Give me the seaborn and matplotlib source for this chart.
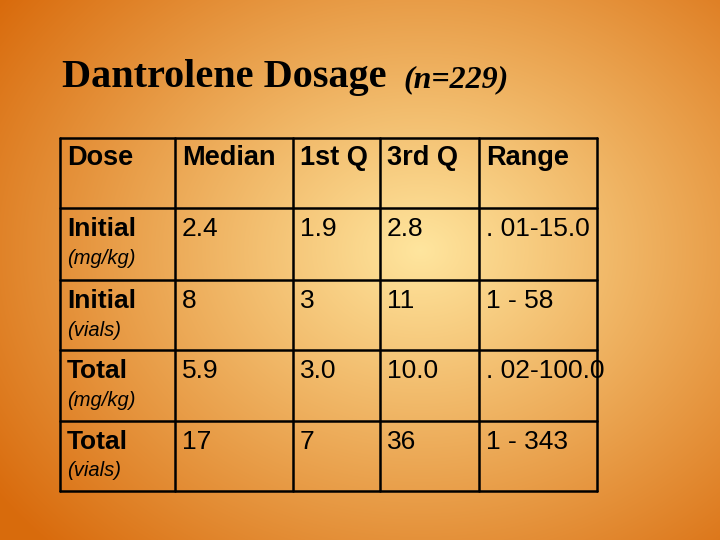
import numpy as np
import matplotlib
matplotlib.use("Agg")
import matplotlib.pyplot as plt
import seaborn as sns

sns.set_theme(style="white")

title_main = "Dantrolene Dosage "
title_sub = "(n=229)"
headers = ["Dose", "Median", "1st Q", "3rd Q", "Range"]
row_names = ["Initial", "Initial", "Total", "Total"]
row_units = ["(mg/kg)", "(vials)", "(mg/kg)", "(vials)"]
median = ["2.4", "8", "5.9", "17"]
q1 = ["1.9", "3", "3.0", "7"]
q3 = ["2.8", "11", "10.0", "36"]
rng = [". 01-15.0", "1 - 58", ". 02-100.0", "1 - 343"]

fig = plt.figure(figsize=(7.2, 5.4), dpi=100)
ax = fig.add_axes([0, 0, 1, 1])
ax.set_xlim(0, 720); ax.set_ylim(540, 0); ax.axis("off")

yy, xx = np.mgrid[0:540, 0:720]
d = np.sqrt(((xx - 420) / 520) ** 2 + ((yy - 250) / 420) ** 2)
d = np.clip(d, 0, 1)
c0 = np.array([1.0, 0.90, 0.62]); c1 = np.array([0.85, 0.42, 0.05])
img = c0[None, None, :] * (1 - d[..., None]) + c1[None, None, :] * d[..., None]
ax.imshow(img, extent=[0, 720, 540, 0], aspect="auto", zorder=0)

K = "black"
ax.text(62, 77, title_main, fontsize=29, fontweight="bold", family="Liberation Serif",
        va="center", ha="left", color=K)
ax.text(403, 80, title_sub, fontsize=23, fontweight="bold", style="italic",
        family="Liberation Serif", va="center", ha="left", color=K)

xs = [60, 175, 293, 380, 479, 597]
ys = [138, 208, 280, 350, 421, 491]
for x in xs:
    ax.plot([x, x], [ys[0], ys[-1]], color=K, lw=1.8, zorder=3)
for y in ys:
    ax.plot([xs[0], xs[-1]], [y, y], color=K, lw=1.8, zorder=3)

f = "Liberation Sans"
for j, h in enumerate(headers):
    ax.text(xs[j] + 7, 158, h, fontsize=19.5, fontweight="bold", family=f, va="center", color=K, zorder=4)
cols = [median, q1, q3, rng]
for i in range(4):
    y0 = ys[i + 1]
    ax.text(67, y0 + 21, row_names[i], fontsize=19, fontweight="bold", family=f, va="center", color=K, zorder=4)
    ax.text(67, y0 + 50, row_units[i], fontsize=14.5, style="italic", family=f, va="center", color=K, zorder=4)
    for j, col in enumerate(cols):
        ax.text(xs[j + 1] + 7, y0 + 21, col[i], fontsize=19, family=f, va="center", color=K, zorder=4)

fig.savefig("out.png", dpi=100)
